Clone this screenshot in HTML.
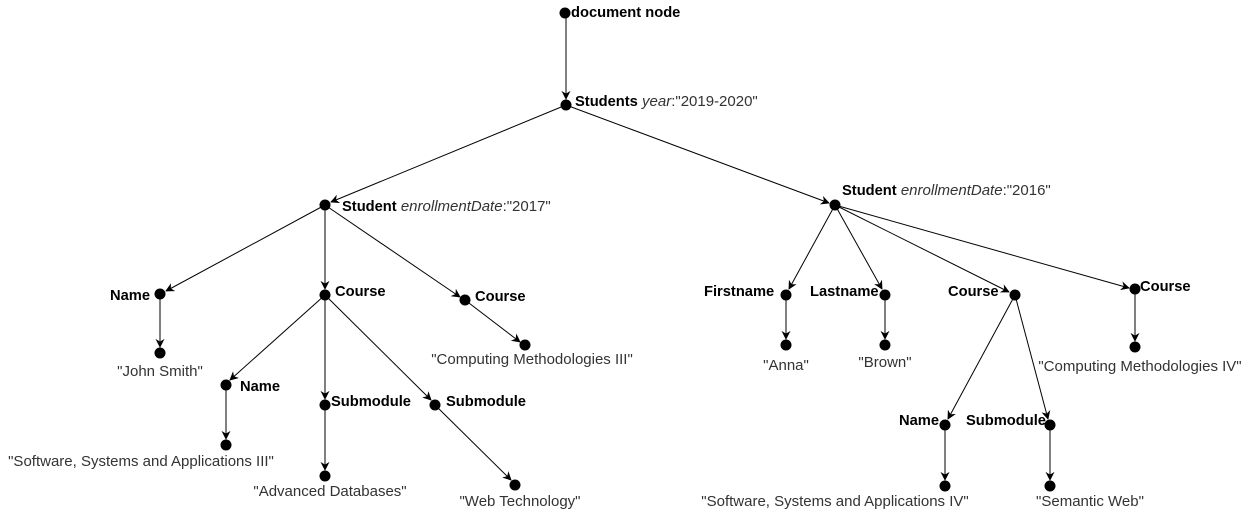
<!DOCTYPE html>
<html><head><meta charset="utf-8"><style>
body{margin:0;background:#fff;}
svg text{font-family:"Liberation Sans",Arial,sans-serif;font-size:15px;}
.b{font-weight:bold;fill:#000;font-size:14.7px;}
.v{fill:#333;}
</style></head><body>
<svg width="1251" height="512" viewBox="0 0 1251 512" xmlns="http://www.w3.org/2000/svg">
<defs><marker id="a" viewBox="0 0 10 10" refX="9" refY="5" markerWidth="9" markerHeight="9" orient="auto" markerUnits="userSpaceOnUse"><path d="M0,0 L10,5 L0,10 L3,5 Z" fill="#000"/></marker></defs>
<g stroke="#000" stroke-width="1" marker-end="url(#a)">
<line x1="566" y1="13" x2="566" y2="99"/>
<line x1="566" y1="105" x2="331" y2="202"/>
<line x1="566" y1="105" x2="829" y2="203"/>
<line x1="325" y1="205" x2="166" y2="291"/>
<line x1="325" y1="205" x2="325" y2="289"/>
<line x1="325" y1="205" x2="460" y2="297"/>
<line x1="160" y1="294" x2="160" y2="347"/>
<line x1="465" y1="300" x2="520" y2="342"/>
<line x1="325" y1="295" x2="230" y2="380"/>
<line x1="325" y1="295" x2="325" y2="399"/>
<line x1="325" y1="295" x2="431" y2="400"/>
<line x1="226" y1="385" x2="226" y2="439"/>
<line x1="325" y1="405" x2="325" y2="470"/>
<line x1="435" y1="405" x2="511" y2="480"/>
<line x1="835" y1="205" x2="789" y2="289"/>
<line x1="835" y1="205" x2="882" y2="289"/>
<line x1="835" y1="205" x2="1009" y2="292"/>
<line x1="835" y1="205" x2="1129" y2="288"/>
<line x1="786" y1="295" x2="786" y2="339"/>
<line x1="885" y1="295" x2="885" y2="339"/>
<line x1="1135" y1="289" x2="1135" y2="341"/>
<line x1="1015" y1="295" x2="948" y2="419"/>
<line x1="1015" y1="295" x2="1048" y2="419"/>
<line x1="945" y1="425" x2="945" y2="480"/>
<line x1="1050" y1="425" x2="1050" y2="480"/>
</g>
<g fill="#000">
<circle cx="565" cy="13" r="5.5"/><circle cx="566" cy="105" r="5.5"/>
<circle cx="325" cy="205" r="5.5"/><circle cx="835" cy="205" r="5.5"/>
<circle cx="160" cy="294" r="5.5"/><circle cx="160" cy="353" r="5.5"/>
<circle cx="325" cy="295" r="5.5"/><circle cx="465" cy="300" r="5.5"/>
<circle cx="525" cy="345" r="5.5"/><circle cx="226" cy="385" r="5.5"/>
<circle cx="226" cy="445" r="5.5"/><circle cx="325" cy="405" r="5.5"/>
<circle cx="325" cy="476" r="5.5"/><circle cx="435" cy="405" r="5.5"/>
<circle cx="515" cy="485" r="5.5"/>
<circle cx="786" cy="295" r="5.5"/><circle cx="885" cy="295" r="5.5"/>
<circle cx="1015" cy="295" r="5.5"/><circle cx="1135" cy="289" r="5.5"/>
<circle cx="786" cy="345" r="5.5"/><circle cx="885" cy="345" r="5.5"/>
<circle cx="1135" cy="347" r="5.5"/><circle cx="945" cy="425" r="5.5"/>
<circle cx="1050" cy="425" r="5.5"/><circle cx="945" cy="486" r="5.5"/>
<circle cx="1050" cy="486" r="5.5"/>
</g>
<text x="571" y="17" class="b">document node</text>
<text x="575" y="106"><tspan class="b">Students</tspan> <tspan font-style="italic" fill="#333">year</tspan><tspan fill="#333">:"2019-2020"</tspan></text>
<text x="342" y="211"><tspan class="b">Student</tspan> <tspan font-style="italic" fill="#333">enrollmentDate</tspan><tspan fill="#333">:"2017"</tspan></text>
<text x="842" y="195"><tspan class="b">Student</tspan> <tspan font-style="italic" fill="#333">enrollmentDate</tspan><tspan fill="#333">:"2016"</tspan></text>
<text x="110" y="300" class="b">Name</text>
<text x="335" y="296" class="b">Course</text>
<text x="475" y="301" class="b">Course</text>
<text x="240" y="391" class="b">Name</text>
<text x="331" y="406" class="b">Submodule</text>
<text x="446" y="406" class="b">Submodule</text>
<text x="160" y="376" text-anchor="middle" class="v">"John Smith"</text>
<text x="532" y="364" text-anchor="middle" class="v">"Computing Methodologies III"</text>
<text x="141" y="466" text-anchor="middle" class="v">"Software, Systems and Applications III"</text>
<text x="330" y="496" text-anchor="middle" class="v">"Advanced Databases"</text>
<text x="520" y="506" text-anchor="middle" class="v">"Web Technology"</text>
<text x="704" y="296" class="b">Firstname</text>
<text x="810" y="296" class="b">Lastname</text>
<text x="948" y="296" class="b">Course</text>
<text x="1140" y="291" class="b">Course</text>
<text x="899" y="425" class="b">Name</text>
<text x="966" y="425" class="b">Submodule</text>
<text x="786" y="370" text-anchor="middle" class="v">"Anna"</text>
<text x="885" y="367" text-anchor="middle" class="v">"Brown"</text>
<text x="1140" y="371" text-anchor="middle" class="v">"Computing Methodologies IV"</text>
<text x="835" y="506" text-anchor="middle" class="v">"Software, Systems and Applications IV"</text>
<text x="1090" y="506" text-anchor="middle" class="v">"Semantic Web"</text>
</svg>
</body></html>
